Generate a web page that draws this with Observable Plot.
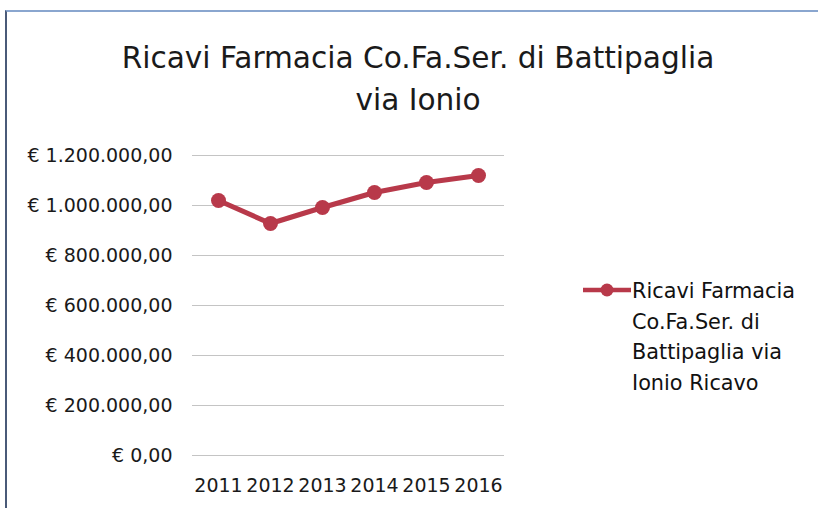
<!DOCTYPE html>
<html><head><meta charset="utf-8">
<script src="https://cdn.jsdelivr.net/npm/d3@7"></script>
<script src="https://cdn.jsdelivr.net/npm/@observablehq/plot@0.6"></script>
<style>
body{margin:0;background:#fff;}
#wrap{position:relative;width:818px;height:508px;overflow:hidden;font-family:"DejaVu Sans",sans-serif;color:#222;}
#frame{position:absolute;left:5px;top:10px;width:830px;height:520px;border-left:2px solid #4a5a78;border-top:2px solid #8aa6cf;}
#title{position:absolute;left:0;width:836px;top:37px;text-align:center;font-size:29.6px;line-height:42px;color:#1a1a1a;}
#legend{position:absolute;left:583px;top:276px;}
#legend .txt{position:absolute;left:49px;top:0;font-size:20.8px;line-height:30.6px;white-space:nowrap;color:#111;}
#plot{position:absolute;left:0;top:0;}
</style></head>
<body>
<div id="wrap">
<div id="frame"></div>
<div id="plot"></div>
<div id="title">Ricavi Farmacia Co.Fa.Ser. di Battipaglia<br>via Ionio</div>
<div id="legend"><svg width="50" height="30" style="position:absolute;left:0;top:0"><line x1="0" x2="48" y1="14" y2="14" stroke="#b8394a" stroke-width="4.5"/><circle cx="24" cy="14" r="6.5" fill="#b8394a"/></svg><div class="txt">Ricavi Farmacia<br>Co.Fa.Ser. di<br>Battipaglia via<br>Ionio Ricavo</div></div>
</div>
<script>
const years = ["2011","2012","2013","2014","2015","2016"];
const ricavi = [1020000, 928000, 992000, 1052000, 1092000, 1120000];
const yTicks = [0, 200000, 400000, 600000, 800000, 1000000, 1200000];
const seriesName = "Ricavi Farmacia Co.Fa.Ser. di Battipaglia via Ionio Ricavo";

const data = years.map((y, i) => ({year: y, value: ricavi[i]}));
const loc = d3.formatLocale({decimal: ",", thousands: ".", grouping: [3], currency: ["€ ", ""]});
const fmt = loc.format("$,.2f");
const color = "#b8394a";

const chart = Plot.plot({
  width: 818, height: 508,
  marginLeft: 192, marginRight: 314, marginTop: 155, marginBottom: 53,
  style: {fontFamily: "'DejaVu Sans', sans-serif", fontSize: "18px", color: "#1a1a1a", background: "transparent"},
  x: {type: "point", domain: years, padding: 0.5, label: null},
  y: {domain: [0, 1200000], label: null},
  marks: [
    Plot.gridY(yTicks, {stroke: "#c4c4c4", strokeOpacity: 1, strokeWidth: 1}),
    Plot.axisX({tickSize: 0, tickPadding: 23, fontSize: 19, label: null}),
    Plot.axisY(yTicks, {tickSize: 0, tickPadding: 20, tickFormat: fmt, fontSize: 19, label: null}),
    Plot.line(data, {x: "year", y: "value", stroke: color, strokeWidth: 5}),
    Plot.dot(data, {x: "year", y: "value", fill: color, r: 7.5})
  ]
});
document.getElementById("plot").appendChild(chart);
</script>
</body></html>
